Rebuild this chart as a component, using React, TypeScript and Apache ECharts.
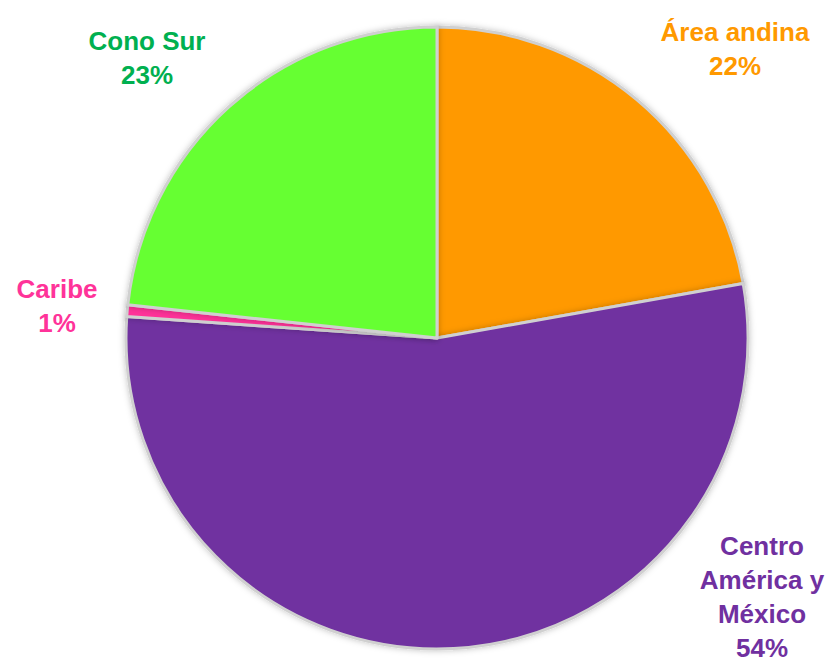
import React, { useEffect, useRef } from "react";
import * as echarts from "echarts";

const regions = ["Área andina", "Centro\nAmérica y\nMéxico", "Caribe", "Cono Sur"];
const shares = [22.2, 53.9, 0.6, 23.3];
const sliceColors = ["#FF9900", "#7030A0", "#FF3399", "#66FF33"];
const labelColors = ["#FF9900", "#7030A0", "#FF3399", "#00B050"];
const labelPos = [
  [735, 49],
  [762, 597],
  [57, 306],
  [147, 58],
];

export default function App() {
  const ref = useRef<HTMLDivElement>(null);
  useEffect(() => {
    document.body.style.margin = "0";
    const chart = echarts.init(ref.current!, null, { renderer: "svg" });
    chart.setOption({
      animation: false,
      backgroundColor: "#ffffff",
      series: [
        {
          type: "pie",
          center: [437, 338],
          radius: 311,
          startAngle: 90,
          clockwise: true,
          percentPrecision: 0,
          itemStyle: {
            borderColor: "#d0d0d0",
            borderWidth: 3,
            shadowBlur: 6,
            shadowColor: "rgba(0,0,0,0.25)",
          },
          label: {
            show: true,
            position: "outside",
            alignTo: "none",
            overflow: "none",
            formatter: "{b}\n{d}%",
            fontFamily: "Liberation Sans",
            fontWeight: "bold",
            fontSize: 26,
            lineHeight: 34,
            align: "center",
          },
          labelLine: { show: false },
          labelLayout: (p: any) => ({
            x: labelPos[p.dataIndex][0],
            y: labelPos[p.dataIndex][1],
            align: "center",
            verticalAlign: "middle",
            width: 200,
          }),
          data: regions.map((name, i) => ({
            name,
            value: shares[i],
            itemStyle: { color: sliceColors[i] },
            label: { color: labelColors[i], overflow: "none" },
          })),
        },
      ],
    });
    return () => chart.dispose();
  }, []);
  return <div ref={ref} style={{ width: 834, height: 661 }} />;
}
